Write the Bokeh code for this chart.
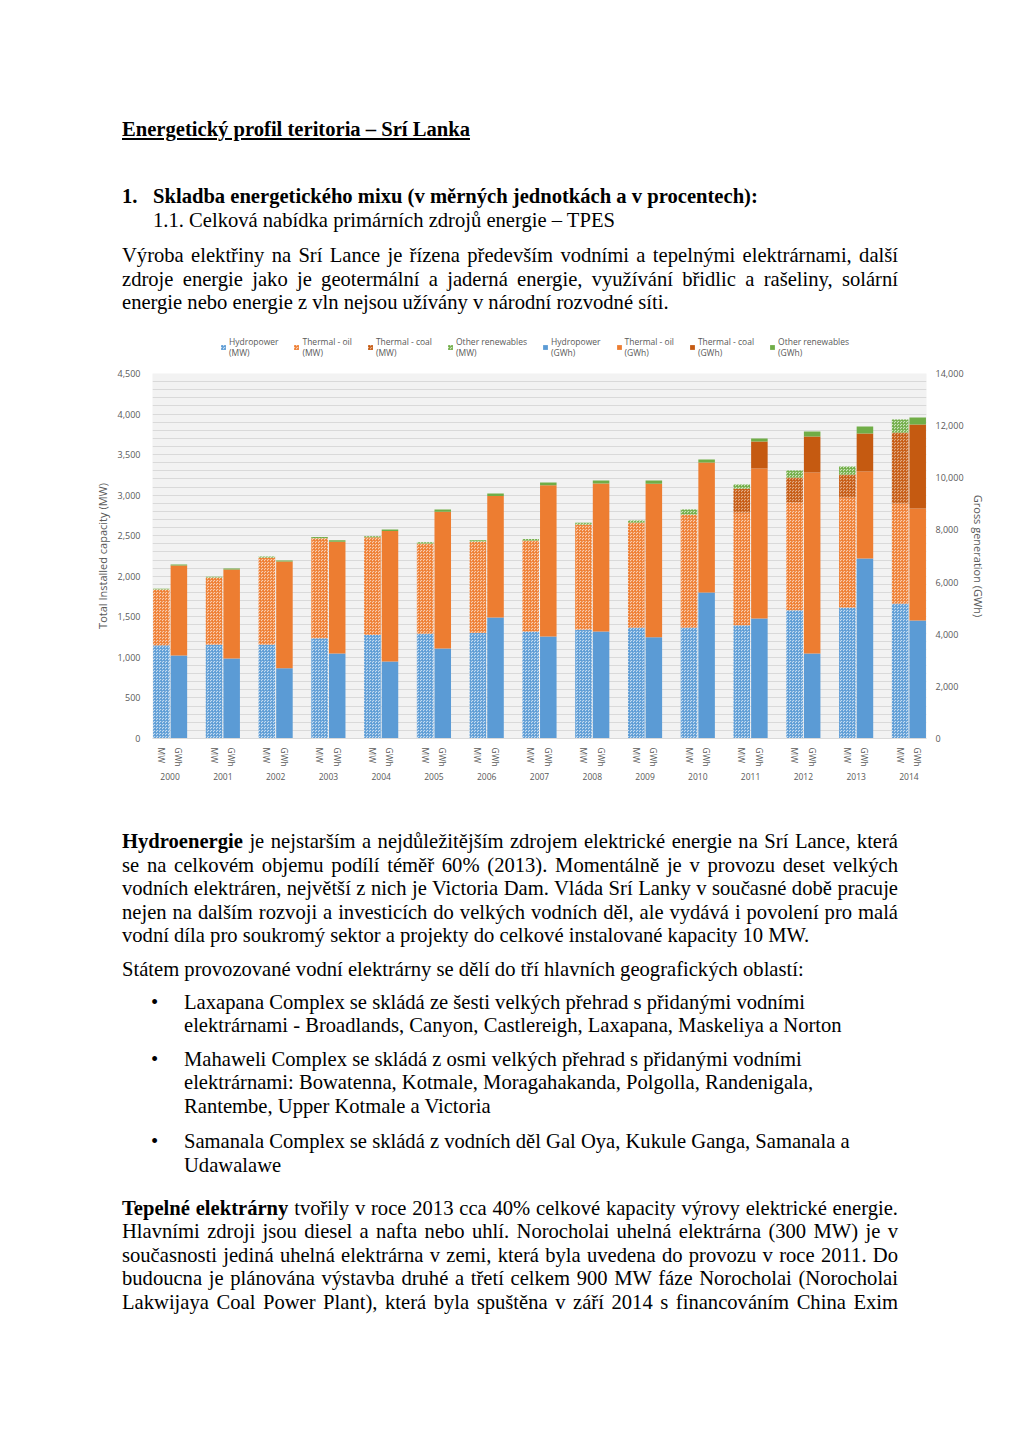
from bokeh.plotting import figure
from bokeh.models import (FactorRange, Range1d, LinearAxis, FixedTicker, NumeralTickFormatter,
                          Legend, LegendItem, Div, ColumnDataSource)
from bokeh.layouts import column
from bokeh.embed import file_html
from bokeh.resources import INLINE

# ---------------- data ----------------
years = [str(y) for y in range(2000, 2015)]
units = ["MW", "GWh"]

mw_hydro = [1150, 1160, 1160, 1235, 1280, 1295, 1305, 1320, 1345, 1370, 1370, 1395, 1580, 1615, 1665]
mw_oil = [687, 825, 1072, 1235, 1200, 1109, 1124, 1121, 1294, 1293, 1392, 1392, 1330, 1357, 1233]
mw_coal = [0, 0, 0, 0, 0, 0, 0, 0, 0, 0, 0, 296, 308, 283, 875]
mw_other = [10, 10, 12, 15, 15, 15, 15, 18, 20, 25, 62, 49, 87, 99, 160]

gwh_hydro = [3180, 3070, 2690, 3260, 2955, 3450, 4640, 3915, 4105, 3880, 5600, 4600, 3260, 6905, 4525]
gwh_oil = [3455, 3410, 4100, 4290, 5005, 5250, 4660, 5795, 5675, 5890, 4990, 5755, 6945, 3335, 4300]
gwh_coal = [0, 0, 0, 0, 0, 0, 0, 0, 0, 0, 0, 1036, 1381, 1458, 3222]
gwh_other = [40, 40, 40, 50, 60, 80, 100, 110, 120, 130, 115, 115, 190, 270, 270]

series = ["hydro", "oil", "coal", "other"]
names = ["Hydropower", "Thermal - oil", "Thermal - coal", "Other renewables"]
mw_ticks = list(range(0, 4501, 500))
gwh_ticks = list(range(0, 14001, 2000))

base_colors = ["#5B9BD5", "#ED7D31", "#C55A11", "#70AD47"]
tint_colors = ["#C5DCF1", "#F9CDB0", "#E3AD88", "#CDE5BD"]

# ---------------- layout constants ----------------
TOP_H = 325
LEG_H = 42
FIG_H = 428

TXT = "#595959"
CF = "Open Sans"
HATCH = dict(hatch_pattern="criss_cross", hatch_scale=3.0, hatch_weight=1.0, hatch_alpha=0.8)

# ---------------- main chart ----------------
factors = [(y, u) for y in years for u in units]
x_range = FactorRange(*factors, factor_padding=0.0, group_padding=1.0, range_padding=0.0)

p = figure(x_range=x_range, y_range=Range1d(0, 4500), width=1020, height=FIG_H,
           output_backend="svg", toolbar_location=None, margin=0,
           min_border_left=152, min_border_right=94, min_border_top=6, min_border_bottom=57)
p.extra_y_ranges = {"gwh": Range1d(0, 14000)}
p.background_fill_color = "#F2F2F2"
p.border_fill_color = "white"
p.outline_line_color = None

src_mw = ColumnDataSource(dict(x=[(y, "MW") for y in years], hydro=mw_hydro, oil=mw_oil,
                               coal=mw_coal, other=mw_other))
src_gwh = ColumnDataSource(dict(x=[(y, "GWh") for y in years], hydro=gwh_hydro, oil=gwh_oil,
                                coal=gwh_coal, other=gwh_other))

p.vbar_stack(series, x="x", width=0.94, source=src_mw,
             fill_color=tint_colors, line_color=None, hatch_color=base_colors, **HATCH)
p.vbar_stack(series, x="x", width=0.94, source=src_gwh, y_range_name="gwh",
             fill_color=base_colors, line_color=None)

p.ygrid.ticker = FixedTicker(ticks=list(range(0, 4501, 100)))
p.ygrid.grid_line_color = "#D9D9D9"
p.ygrid.grid_line_width = 1
p.xgrid.visible = False

ly = p.yaxis[0]
ly.ticker = FixedTicker(ticks=mw_ticks)
ly.formatter = NumeralTickFormatter(format="0,0")
ly.axis_label = "Total Installed capacity (MW)"
ly.axis_line_color = None
ly.major_tick_line_color = None
ly.minor_tick_line_color = None
ly.major_label_standoff = 6
ly.major_label_text_font = CF
ly.major_label_text_font_size = "9px"
ly.major_label_text_color = TXT
ly.axis_label_text_font = CF
ly.axis_label_text_font_size = "11px"
ly.axis_label_text_font_style = "normal"
ly.axis_label_text_color = TXT
ly.axis_label_standoff = 5

ry = LinearAxis(y_range_name="gwh", ticker=FixedTicker(ticks=gwh_ticks),
                formatter=NumeralTickFormatter(format="0,0"),
                axis_label="Gross generation (GWh)")
ry.axis_line_color = None
ry.major_tick_line_color = None
ry.minor_tick_line_color = None
ry.major_label_standoff = 3
ry.major_label_text_font = CF
ry.major_label_text_font_size = "9px"
ry.major_label_text_color = TXT
ry.axis_label_text_font = CF
ry.axis_label_text_font_size = "11px"
ry.axis_label_text_font_style = "normal"
ry.axis_label_text_color = TXT
ry.axis_label_standoff = 4
p.add_layout(ry, "right")

bx = p.xaxis[0]
bx.major_label_orientation = "vertical"
bx.major_label_text_font = CF
bx.major_label_text_font_size = "8.5px"
bx.major_label_text_color = TXT
bx.major_label_standoff = 3
bx.major_tick_line_color = None
bx.minor_tick_line_color = None
bx.axis_line_color = "#D9D9D9"
bx.separator_line_color = None
bx.group_text_font = CF
bx.group_text_font_size = "8.5px"
bx.group_text_font_style = "normal"
bx.group_text_color = TXT

# ---------------- legend strip (own small figure above the chart) ----------------
pl = figure(width=1020, height=LEG_H, x_range=Range1d(0, 1), y_range=Range1d(0, 1),
            x_axis_location=None, y_axis_location=None,
            output_backend="svg", toolbar_location=None, margin=0,
            min_border=0, min_border_left=0, min_border_right=0, min_border_top=0,
            min_border_bottom=0)
pl.grid.visible = False
pl.outline_line_color = None
pl.background_fill_color = "white"
pl.border_fill_color = "white"

# zero-height swatch renderers: they only supply the legend glyph styles
items = []
for i, nm in enumerate(names):
    r = pl.vbar(x=[0.5], top=[0], width=0.1, fill_color=tint_colors[i], line_color=None,
                hatch_color=base_colors[i], **HATCH)
    items.append(LegendItem(label=nm + "\n(MW)", renderers=[r]))
for i, nm in enumerate(names):
    r = pl.vbar(x=[0.5], top=[0], width=0.1, fill_color=base_colors[i], line_color=None)
    items.append(LegendItem(label=nm + "\n(GWh)", renderers=[r]))
legend = Legend(items=items, orientation="horizontal", location=(68, 9),
                label_text_font=CF, label_text_font_size="8.5px", label_text_color=TXT,
                label_text_line_height=1.25,
                glyph_width=6, glyph_height=6, label_standoff=3, spacing=15,
                padding=2, margin=0, border_line_color=None, background_fill_alpha=0,
                label_height=22)
pl.add_layout(legend, "center")

# ---------------- document text ----------------
SERIF = "'Liberation Serif', 'Times New Roman', serif"
FS = 20.6
LH = 23.4
ASC = 18.7  # baseline offset from line-box top


def line(baseline, left, html, off, width=None, justify=False):
    top = baseline - ASC - off
    style = f"position:absolute;left:{left}px;top:{top:.1f}px;line-height:{LH}px;"
    if width:
        style += f"width:{width}px;"
    if justify:
        style += "text-align:justify;text-align-last:justify;"
    else:
        style += "white-space:nowrap;"
    return f'<div style="{style}">{html}</div>'


def block(lines, h):
    inner = "".join(lines)
    return (f'<div style="position:relative;width:1020px;height:{h}px;font-family:{SERIF};'
            f'font-size:{FS}px;color:#000;">{inner}</div>')


off1 = 0
top_lines = [
    line(137, 122, "<b><u>Energetický profil teritoria – Srí Lanka</u></b>", off1),
    line(203.5, 122, "<b>1.</b>", off1),
    line(203.5, 153, "<b>Skladba energetického mixu (v měrných jednotkách a v procentech):</b>", off1),
    line(227.5, 153, "1.1. Celková nabídka primárních zdrojů energie – TPES", off1),
    line(263, 122, "Výroba elektřiny na Srí Lance je řízena především vodními a tepelnými elektrárnami, další", off1, 776, True),
    line(286.5, 122, "zdroje energie jako je geotermální a jaderná energie, využívání břidlic a rašeliny, solární", off1, 776, True),
    line(310, 122, "energie nebo energie z vln nejsou užívány v národní rozvodné síti.", off1),
]
div_top = Div(text=block(top_lines, TOP_H), width=1020, height=TOP_H, margin=0)

off2 = TOP_H + LEG_H + FIG_H
H2 = 1442 - off2
b = "•"
bottom_lines = [
    line(849, 122, "<b>Hydroenergie</b> je nejstarším a nejdůležitějším zdrojem elektrické energie na Srí Lance, která", off2, 776, True),
    line(872.5, 122, "se na celkovém objemu podílí téměř 60% (2013). Momentálně je v provozu deset velkých", off2, 776, True),
    line(896, 122, "vodních elektráren, největší z nich je Victoria Dam. Vláda Srí Lanky v současné době pracuje", off2, 776, True),
    line(919.5, 122, "nejen na dalším rozvoji a investicích do velkých vodních děl, ale vydává i povolení pro malá", off2, 776, True),
    line(943, 122, "vodní díla pro soukromý sektor a projekty do celkové instalované kapacity 10 MW.", off2),
    line(976.5, 122, "Státem provozované vodní elektrárny se dělí do tří hlavních geografických oblastí:", off2),
    line(1009.5, 151, b, off2),
    line(1009.5, 184, "Laxapana Complex se skládá ze šesti velkých přehrad s přidanými vodními", off2),
    line(1033, 184, "elektrárnami - Broadlands, Canyon, Castlereigh, Laxapana, Maskeliya a Norton", off2),
    line(1066.5, 151, b, off2),
    line(1066.5, 184, "Mahaweli Complex se skládá z osmi velkých přehrad s přidanými vodními", off2),
    line(1090, 184, "elektrárnami: Bowatenna, Kotmale, Moragahakanda, Polgolla, Randenigala,", off2),
    line(1113.5, 184, "Rantembe, Upper Kotmale a Victoria", off2),
    line(1149, 151, b, off2),
    line(1149, 184, "Samanala Complex se skládá z vodních děl Gal Oya, Kukule Ganga, Samanala a", off2),
    line(1172.5, 184, "Udawalawe", off2),
    line(1215.5, 122, "<b>Tepelné elektrárny</b> tvořily v roce 2013 cca 40% celkové kapacity výrovy elektrické energie.", off2, 776, True),
    line(1239, 122, "Hlavními zdroji jsou diesel a nafta nebo uhlí. Norocholai uhelná elektrárna (300 MW) je v", off2, 776, True),
    line(1262.5, 122, "současnosti jediná uhelná elektrárna v zemi, která byla uvedena do provozu v roce 2011. Do", off2, 776, True),
    line(1286, 122, "budoucna je plánována výstavba druhé a třetí celkem 900 MW fáze Norocholai (Norocholai", off2, 776, True),
    line(1309.5, 122, "Lakwijaya Coal Power Plant), která byla spuštěna v září 2014 s financováním China Exim", off2, 776, True),
]
div_bottom = Div(text=block(bottom_lines, H2), width=1020, height=H2, margin=0)

layout = column(div_top, pl, p, div_bottom, spacing=0, margin=0)
open("out.html", "w").write(file_html(layout, INLINE))
